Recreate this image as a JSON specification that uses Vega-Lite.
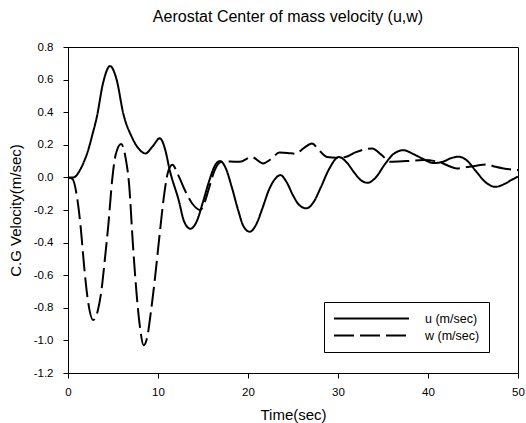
{
  "$schema": "https://vega.github.io/schema/vega-lite/v6.json",
  "autosize": {"type": "none"},
  "padding": {"left": 68, "top": 47, "right": 8, "bottom": 50},
  "width": 450,
  "height": 326,
  "title": {"text": "Aerostat Center of mass velocity (u,w)", "fontSize": 16, "font": "Liberation Sans", "fontWeight": "normal", "color": "black", "anchor": "middle", "frame": "group", "offset": 16, "dx": -5},
  "config": {
    "view": {"stroke": "black", "strokeWidth": 1},
    "axis": {"grid": false, "domainColor": "black", "tickColor": "black", "labelColor": "black", "titleColor": "black", "labelFont": "Liberation Sans", "titleFont": "Liberation Sans", "titleFontWeight": "normal", "labelFontSize": 11.5, "titleFontSize": 15, "tickSize": 5}
  },
  "data": {"values": [
    {"t": 0, "v": 0, "s": "u (m/sec)"},
    {"t": 0.6, "v": 0.0, "s": "u (m/sec)"},
    {"t": 1.33, "v": 0.045, "s": "u (m/sec)"},
    {"t": 1.8, "v": 0.1, "s": "u (m/sec)"},
    {"t": 2.26, "v": 0.17, "s": "u (m/sec)"},
    {"t": 2.7, "v": 0.26, "s": "u (m/sec)"},
    {"t": 3.2, "v": 0.37, "s": "u (m/sec)"},
    {"t": 3.9, "v": 0.58, "s": "u (m/sec)"},
    {"t": 4.67, "v": 0.683, "s": "u (m/sec)"},
    {"t": 5.4, "v": 0.6, "s": "u (m/sec)"},
    {"t": 6.15, "v": 0.39, "s": "u (m/sec)"},
    {"t": 7.07, "v": 0.25, "s": "u (m/sec)"},
    {"t": 8.0, "v": 0.167, "s": "u (m/sec)"},
    {"t": 8.6, "v": 0.147, "s": "u (m/sec)"},
    {"t": 9.4, "v": 0.19, "s": "u (m/sec)"},
    {"t": 10.2, "v": 0.24, "s": "u (m/sec)"},
    {"t": 10.8, "v": 0.17, "s": "u (m/sec)"},
    {"t": 11.3, "v": 0.045, "s": "u (m/sec)"},
    {"t": 12.3, "v": -0.14, "s": "u (m/sec)"},
    {"t": 12.9, "v": -0.27, "s": "u (m/sec)"},
    {"t": 13.6, "v": -0.315, "s": "u (m/sec)"},
    {"t": 14.3, "v": -0.27, "s": "u (m/sec)"},
    {"t": 15.0, "v": -0.15, "s": "u (m/sec)"},
    {"t": 15.7, "v": -0.02, "s": "u (m/sec)"},
    {"t": 16.3, "v": 0.07, "s": "u (m/sec)"},
    {"t": 16.9, "v": 0.1, "s": "u (m/sec)"},
    {"t": 17.5, "v": 0.06, "s": "u (m/sec)"},
    {"t": 18.2, "v": -0.06, "s": "u (m/sec)"},
    {"t": 18.9, "v": -0.2, "s": "u (m/sec)"},
    {"t": 19.5, "v": -0.3, "s": "u (m/sec)"},
    {"t": 20.2, "v": -0.333, "s": "u (m/sec)"},
    {"t": 20.9, "v": -0.29, "s": "u (m/sec)"},
    {"t": 21.6, "v": -0.19, "s": "u (m/sec)"},
    {"t": 22.3, "v": -0.08, "s": "u (m/sec)"},
    {"t": 23.0, "v": -0.01, "s": "u (m/sec)"},
    {"t": 23.6, "v": 0.014, "s": "u (m/sec)"},
    {"t": 24.3, "v": -0.03, "s": "u (m/sec)"},
    {"t": 25.0, "v": -0.11, "s": "u (m/sec)"},
    {"t": 25.7, "v": -0.17, "s": "u (m/sec)"},
    {"t": 26.5, "v": -0.19, "s": "u (m/sec)"},
    {"t": 27.3, "v": -0.15, "s": "u (m/sec)"},
    {"t": 28.1, "v": -0.06, "s": "u (m/sec)"},
    {"t": 29.0, "v": 0.05, "s": "u (m/sec)"},
    {"t": 30.1, "v": 0.125, "s": "u (m/sec)"},
    {"t": 31.0, "v": 0.09, "s": "u (m/sec)"},
    {"t": 31.8, "v": 0.03, "s": "u (m/sec)"},
    {"t": 32.5, "v": -0.015, "s": "u (m/sec)"},
    {"t": 33.3, "v": -0.033, "s": "u (m/sec)"},
    {"t": 34.2, "v": 0.0, "s": "u (m/sec)"},
    {"t": 35.2, "v": 0.08, "s": "u (m/sec)"},
    {"t": 36.2, "v": 0.145, "s": "u (m/sec)"},
    {"t": 37.3, "v": 0.167, "s": "u (m/sec)"},
    {"t": 38.3, "v": 0.145, "s": "u (m/sec)"},
    {"t": 39.4, "v": 0.115, "s": "u (m/sec)"},
    {"t": 40.6, "v": 0.088, "s": "u (m/sec)"},
    {"t": 41.6, "v": 0.095, "s": "u (m/sec)"},
    {"t": 42.5, "v": 0.117, "s": "u (m/sec)"},
    {"t": 43.4, "v": 0.127, "s": "u (m/sec)"},
    {"t": 44.3, "v": 0.105, "s": "u (m/sec)"},
    {"t": 45.3, "v": 0.04, "s": "u (m/sec)"},
    {"t": 46.4, "v": -0.03, "s": "u (m/sec)"},
    {"t": 47.5, "v": -0.058, "s": "u (m/sec)"},
    {"t": 48.5, "v": -0.04, "s": "u (m/sec)"},
    {"t": 49.3, "v": -0.015, "s": "u (m/sec)"},
    {"t": 50, "v": 0.005, "s": "u (m/sec)"},
    {"t": 0, "v": 0, "s": "w (m/sec)"},
    {"t": 0.5, "v": -0.01, "s": "w (m/sec)"},
    {"t": 1.0, "v": -0.12, "s": "w (m/sec)"},
    {"t": 1.4, "v": -0.3, "s": "w (m/sec)"},
    {"t": 1.8, "v": -0.55, "s": "w (m/sec)"},
    {"t": 2.2, "v": -0.75, "s": "w (m/sec)"},
    {"t": 2.8, "v": -0.875, "s": "w (m/sec)"},
    {"t": 3.3, "v": -0.82, "s": "w (m/sec)"},
    {"t": 3.7, "v": -0.7, "s": "w (m/sec)"},
    {"t": 4.1, "v": -0.5, "s": "w (m/sec)"},
    {"t": 4.5, "v": -0.28, "s": "w (m/sec)"},
    {"t": 4.9, "v": -0.02, "s": "w (m/sec)"},
    {"t": 5.3, "v": 0.14, "s": "w (m/sec)"},
    {"t": 5.9, "v": 0.205, "s": "w (m/sec)"},
    {"t": 6.4, "v": 0.12, "s": "w (m/sec)"},
    {"t": 6.8, "v": -0.05, "s": "w (m/sec)"},
    {"t": 7.2, "v": -0.4, "s": "w (m/sec)"},
    {"t": 7.6, "v": -0.7, "s": "w (m/sec)"},
    {"t": 8.0, "v": -0.92, "s": "w (m/sec)"},
    {"t": 8.4, "v": -1.03, "s": "w (m/sec)"},
    {"t": 8.8, "v": -0.98, "s": "w (m/sec)"},
    {"t": 9.2, "v": -0.83, "s": "w (m/sec)"},
    {"t": 9.7, "v": -0.6, "s": "w (m/sec)"},
    {"t": 10.2, "v": -0.34, "s": "w (m/sec)"},
    {"t": 10.7, "v": -0.1, "s": "w (m/sec)"},
    {"t": 11.1, "v": 0.03, "s": "w (m/sec)"},
    {"t": 11.6, "v": 0.078, "s": "w (m/sec)"},
    {"t": 12.2, "v": 0.02, "s": "w (m/sec)"},
    {"t": 13.0, "v": -0.08, "s": "w (m/sec)"},
    {"t": 13.8, "v": -0.16, "s": "w (m/sec)"},
    {"t": 14.7, "v": -0.2, "s": "w (m/sec)"},
    {"t": 15.2, "v": -0.15, "s": "w (m/sec)"},
    {"t": 15.7, "v": -0.06, "s": "w (m/sec)"},
    {"t": 16.3, "v": 0.045, "s": "w (m/sec)"},
    {"t": 17.0, "v": 0.095, "s": "w (m/sec)"},
    {"t": 18.0, "v": 0.097, "s": "w (m/sec)"},
    {"t": 19.1, "v": 0.096, "s": "w (m/sec)"},
    {"t": 20.4, "v": 0.125, "s": "w (m/sec)"},
    {"t": 21.7, "v": 0.086, "s": "w (m/sec)"},
    {"t": 22.5, "v": 0.11, "s": "w (m/sec)"},
    {"t": 23.5, "v": 0.152, "s": "w (m/sec)"},
    {"t": 24.4, "v": 0.15, "s": "w (m/sec)"},
    {"t": 25.3, "v": 0.145, "s": "w (m/sec)"},
    {"t": 26.2, "v": 0.18, "s": "w (m/sec)"},
    {"t": 27.1, "v": 0.208, "s": "w (m/sec)"},
    {"t": 28.0, "v": 0.16, "s": "w (m/sec)"},
    {"t": 28.8, "v": 0.125, "s": "w (m/sec)"},
    {"t": 29.8, "v": 0.12, "s": "w (m/sec)"},
    {"t": 30.8, "v": 0.125, "s": "w (m/sec)"},
    {"t": 32.0, "v": 0.155, "s": "w (m/sec)"},
    {"t": 33.8, "v": 0.178, "s": "w (m/sec)"},
    {"t": 34.8, "v": 0.14, "s": "w (m/sec)"},
    {"t": 35.8, "v": 0.096, "s": "w (m/sec)"},
    {"t": 37.6, "v": 0.1, "s": "w (m/sec)"},
    {"t": 39.5, "v": 0.106, "s": "w (m/sec)"},
    {"t": 41.3, "v": 0.094, "s": "w (m/sec)"},
    {"t": 42.3, "v": 0.07, "s": "w (m/sec)"},
    {"t": 43.2, "v": 0.055, "s": "w (m/sec)"},
    {"t": 44.2, "v": 0.062, "s": "w (m/sec)"},
    {"t": 45.2, "v": 0.07, "s": "w (m/sec)"},
    {"t": 46.5, "v": 0.08, "s": "w (m/sec)"},
    {"t": 47.5, "v": 0.065, "s": "w (m/sec)"},
    {"t": 48.4, "v": 0.055, "s": "w (m/sec)"},
    {"t": 50, "v": 0.045, "s": "w (m/sec)"}
  ]},
  "mark": {"type": "line", "interpolate": "monotone", "strokeWidth": 2, "color": "black", "clip": true},
  "encoding": {
    "x": {"field": "t", "type": "quantitative", "scale": {"domain": [0, 50], "nice": false},
      "axis": {"title": "Time(sec)", "values": [0, 10, 20, 30, 40, 50], "labelPadding": 8, "titlePadding": 10, "labelFlush": false}},
    "y": {"field": "v", "type": "quantitative", "scale": {"domain": [-1.2, 0.8], "nice": false, "zero": false},
      "axis": {"title": "C.G Velocity(m/sec)", "values": [-1.2, -1.0, -0.8, -0.6, -0.4, -0.2, 0, 0.2, 0.4, 0.6, 0.8], "labelExpr": "replace(format(datum.value, '.1f'), '\u2212', '-')", "labelPadding": 10, "titlePadding": 10, "labelFlush": false}},
    "strokeDash": {"field": "s", "type": "nominal",
      "scale": {"domain": ["u (m/sec)", "w (m/sec)"], "range": [[1, 0], [20, 6]]},
      "legend": {"title": null, "orient": "none", "legendX": 256, "legendY": 255, "symbolType": "stroke", "symbolSize": 5625, "symbolStrokeWidth": 2, "symbolStrokeColor": "black", "labelOffset": 15, "labelFontSize": 12.5, "labelFont": "Liberation Sans", "labelColor": "black", "clipHeight": 15, "rowPadding": 2, "padding": 9, "strokeColor": "black", "fillColor": "white", "cornerRadius": 0}}
  }
}
